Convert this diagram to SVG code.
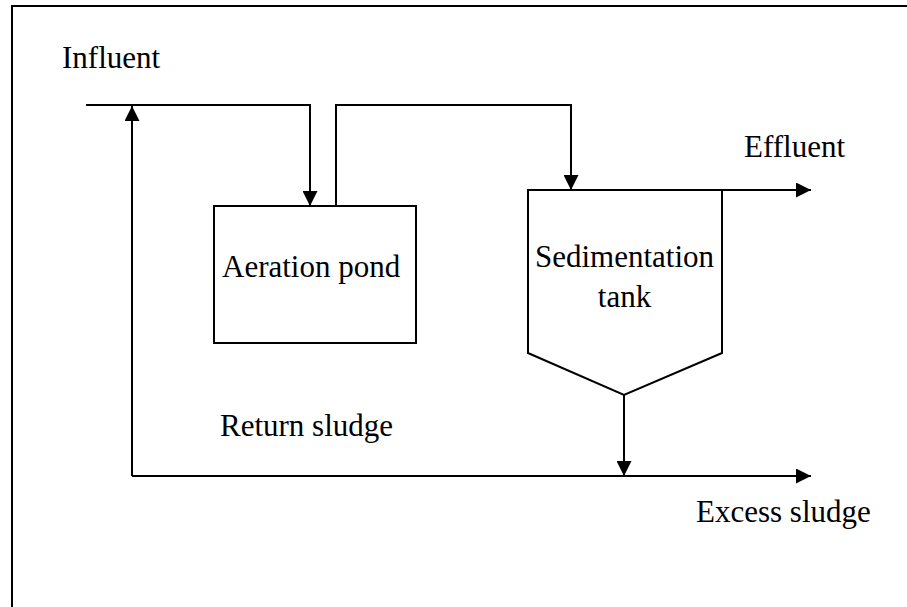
<svg xmlns="http://www.w3.org/2000/svg" width="907" height="607" viewBox="0 0 907 607">
<defs>
<marker id="arr" markerUnits="userSpaceOnUse" markerWidth="15" markerHeight="15" refX="15" refY="7.5" orient="auto">
<path d="M0,0 L15,7.5 L0,15 z" fill="#000"/>
</marker>
<style>
.ln{fill:none;stroke:#000;stroke-width:2}
.tx{font-family:'Liberation Serif','DejaVu Serif',serif;font-size:31px;fill:#000}
.ar{marker-end:url(#arr)}
</style>
</defs>
<rect width="907" height="607" fill="#fff"/>
<path class="ln" d="M12,607 L12,6 L907,6"/>
<g id="aeration">
<rect class="ln" x="214" y="206" width="202" height="137"/>
<text class="tx" x="222" y="277">Aeration pond</text>
</g>
<g id="sedimentation">
<path class="ln" d="M528,190 L722,190 L722,353 L624,395 L528,353 Z"/>
<text class="tx" x="624.5" y="267" text-anchor="middle">Sedimentation</text>
<text class="tx" x="624.5" y="307" text-anchor="middle">tank</text>
</g>
<g id="labels">
<text class="tx" x="62" y="68">Influent</text>
<text class="tx" x="744" y="157">Effluent</text>
<text class="tx" x="220" y="436">Return sludge</text>
<text class="tx" x="696" y="522">Excess sludge</text>
</g>
<g id="connectors">
<path class="ln ar" d="M86,105 L310,105 L310,206"/>
<path class="ln ar" d="M336,206 L336,105 L571,105 L571,190"/>
<path class="ln ar" d="M722,190 L811,190"/>
<path class="ln ar" d="M624,395 L624,476"/>
<path class="ln ar" d="M132,476 L811,476"/>
<path class="ln ar" d="M132,476 L132,106"/>
</g>
</svg>
